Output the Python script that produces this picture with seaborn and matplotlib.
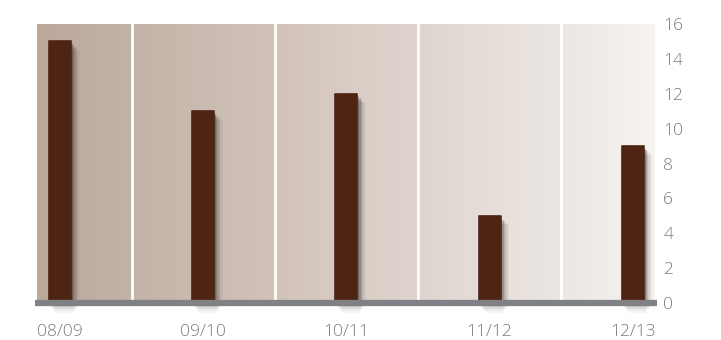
import matplotlib
matplotlib.use("Agg")
import matplotlib.pyplot as plt
import matplotlib.colors as mcolors
import numpy as np
import pandas as pd
import seaborn as sns

categories = ["08/09", "09/10", "10/11", "11/12", "12/13"]
values = [15, 11, 12, 5, 9]
yticks = [0, 2, 4, 6, 8, 10, 12, 14, 16]

df = pd.DataFrame({"season": categories, "value": values})

sns.set_style("white")
plt.rcParams["font.family"] = ["Open Sans", "DejaVu Sans"]

fig = plt.figure(figsize=(7.21, 3.40), dpi=100)
ax = fig.add_axes([37 / 721, 37 / 340, 618 / 721, 279 / 340])

xmin, xmax = -0.16, 4.155
ymin, ymax = 0, 16

# gradient background
cmap = mcolors.LinearSegmentedColormap.from_list(
    "bg", ["#bca89b", "#c9b9af", "#d9ccc4", "#e6dfda", "#f6f3f1"])
grad = np.linspace(0, 1, 256).reshape(1, -1)
ax.imshow(grad, cmap=cmap, extent=[xmin, xmax, ymin, ymax], aspect="auto",
          zorder=0, interpolation="bicubic")

# separators
for xs in np.arange(0.5, len(categories) - 0.4, 1.0):
    ax.axvline(xs, color="white", lw=2, zorder=1)

bw = 0.154
pos = np.arange(len(values))
# soft shadows to the right of the bars
for k, a in enumerate([0.25, 0.18, 0.12, 0.08, 0.05, 0.03]):
    off = 0.012 + 0.010 * k
    ax.bar(pos + off, np.array(values) - 0.08 * k - 0.15,
           width=bw, color="#202020", alpha=a, zorder=2, linewidth=0)
# soft shadows below the base line
for k, a in enumerate([0.12, 0.10, 0.08, 0.06, 0.04]):
    ax.bar(pos + 0.03, -0.15 - 0.1 * k, width=bw + 0.05 - 0.02 * k,
           color="#303030", alpha=a, zorder=1, linewidth=0, clip_on=False)

sns.barplot(data=df, x="season", y="value", ax=ax, color="#4e2414",
            width=bw, saturation=1, zorder=3, edgecolor="#4e2414",
            linewidth=1.2)
for p in ax.patches[-len(values):]:
    p.set_joinstyle("round")

ax.set_xlim(xmin, xmax)
ax.set_ylim(ymin, ymax)

# base line
ax.axhline(0, xmin=-0.004, xmax=1.004, color="#7f8187", lw=4.5,
           clip_on=False, zorder=4, solid_capstyle="butt")

ax.yaxis.tick_right()
ax.set_yticks(yticks)
ax.set_yticklabels([str(t) for t in yticks], fontweight="light")
ax.set_xticks(pos)
ax.set_xticklabels(categories, fontweight="light")
ax.tick_params(axis="y", length=0, pad=6, labelsize=12.5, labelcolor="#7a7a7a")
ax.tick_params(axis="x", length=0, pad=15, labelsize=12.5, labelcolor="#7a7a7a")
ax.set_xlabel("")
ax.set_ylabel("")
for s in ax.spines.values():
    s.set_visible(False)

fig.savefig("out.png", dpi=100, facecolor="white")
